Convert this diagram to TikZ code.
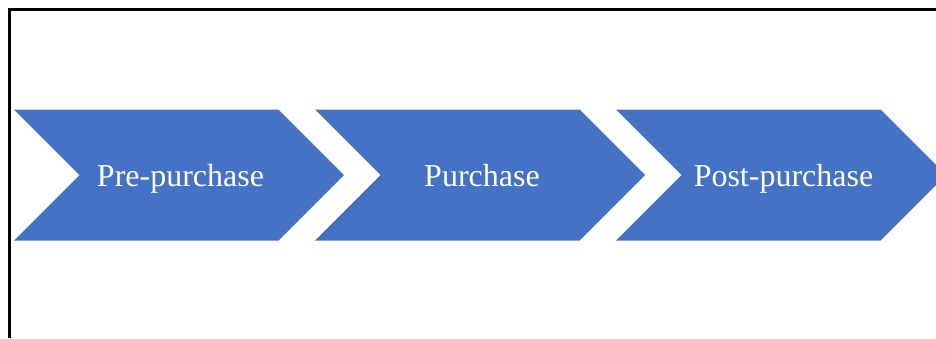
\documentclass[tikz,border=0pt]{standalone}
\usepackage{fontspec}
\setmainfont{Liberation Serif}
\definecolor{chevblue}{HTML}{4472C4}
\tikzset{
  chev/.style={fill=chevblue, draw=none},
  chevlabel/.style={text=white, font=\fontsize{32}{38}\selectfont, anchor=base, inner sep=0pt},
  frameline/.style={draw=black, line width=2.2pt}
}
\begin{document}
\begin{tikzpicture}[x=1pt, y=-1pt]
  \useasboundingbox (0,0) rectangle (936,338);
  \clip (0,0) rectangle (936,338);
  % frame
  \draw[frameline] (9.5,338) -- (9.5,9.5) -- (940,9.5);
  % chevrons
  \foreach \i/\dx in {1/14, 2/315, 3/616} {
    \fill[chev] (\dx,109.5) -- ++(264.5,0) -- ++(65.5,65.5) -- ++(-65.5,65.5)
      -- ++(-264.5,0) -- ++(65.5,-65.5) -- cycle;
  }
  \node[chevlabel] (pre) at (180.5,186.5) {Pre-purchase};
  \node[chevlabel] (pur) at (482,186.5) {Purchase};
  \node[chevlabel] (post) at (783.5,186.5) {Post-purchase};
\end{tikzpicture}
\end{document}
